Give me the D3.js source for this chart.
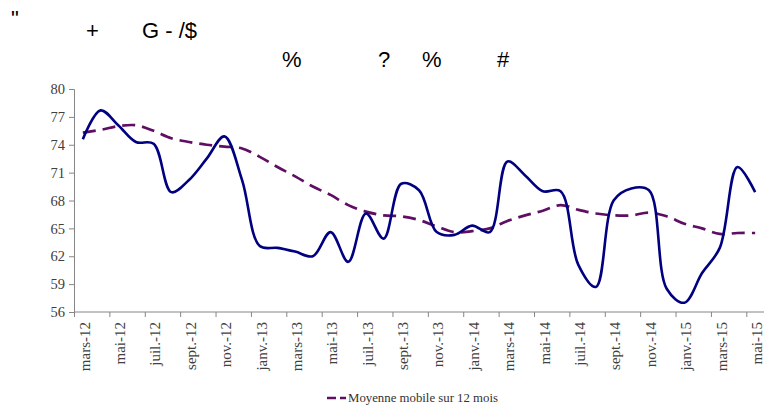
<!DOCTYPE html>
<html lang="fr">
<head>
<meta charset="utf-8">
<title></title>
<style>
  body { margin: 0; background: #fff; }
  .axis path, .axis line { stroke: #868686; }
  .axis text { font-family: "Liberation Serif", serif; fill: #404040; }
  .head { font-family: "Liberation Sans", Arial, sans-serif; font-size: 22px; fill: #000; }
</style>
</head>
<body>
<svg class="chart"></svg>
<script src="https://cdnjs.cloudflare.com/ajax/libs/d3/7.8.5/d3.min.js"></script>
<script>
var months = ["mars-12","avr.-12","mai-12","juin-12","juil.-12","août-12","sept.-12","oct.-12","nov.-12","déc.-12",
  "janv.-13","févr.-13","mars-13","avr.-13","mai-13","juin-13","juil.-13","août-13","sept.-13","oct.-13","nov.-13","déc.-13",
  "janv.-14","févr.-14","mars-14","avr.-14","mai-14","juin-14","juil.-14","août-14","sept.-14","oct.-14","nov.-14","déc.-14",
  "janv.-15","févr.-15","mars-15","avr.-15","mai-15"];

var monthly = [74.6, 77.7, 76.1, 74.3, 74.1, 68.9, 70.2, 72.5, 74.9, 70.2,
  63.1, 62.9, 62.5, 62.0, 64.6, 61.4, 66.6, 63.9, 69.8, 69.1, 64.6, 64.3,
  65.3, 64.6, 72.2, 70.7, 69.0, 69.0, 61.1, 58.7, 68.0, 69.3, 69.1, 58.5,
  57.0, 60.2, 62.9, 71.6, 68.9];

var movingAvg = [75.3, 75.6, 76.0, 76.1, 75.5, 74.7, 74.3, 74.0, 73.8, 73.6,
  72.7, 71.6, 70.6, 69.5, 68.6, 67.5, 66.8, 66.4, 66.3, 65.9, 65.2, 64.6,
  64.7, 65.0, 65.8, 66.4, 66.9, 67.5, 67.0, 66.6, 66.4, 66.4, 66.7, 66.3,
  65.5, 65.0, 64.4, 64.5, 64.5];

var yTicks = [56, 59, 62, 65, 68, 71, 74, 77, 80];

// garbled title glyphs as they appear in the source
var headLine1 = [["\"", 11, 26], ["+", 86, 38], ["G - /$", 142, 38]];
var headLine2 = [["%", 282, 67], ["?", 378, 67], ["%", 422, 67], ["#", 497, 67]];

var W = 775, H = 407;
var plotLeft = 74, plotRight = 764, plotTop = 89, plotBottom = 312;

var svg = d3.select(".chart").attr("width", W).attr("height", H);

svg.selectAll(".head").data(headLine1.concat(headLine2)).enter().append("text")
  .attr("class", "head")
  .attr("x", function(d) { return d[1]; })
  .attr("y", function(d) { return d[2]; })
  .text(function(d) { return d[0]; });

var x = d3.scaleBand().domain(months).range([plotLeft, plotRight]);
var xl = d3.scaleLinear().domain([0, months.length]).range([plotLeft, plotRight]);
var y = d3.scaleLinear().domain([56, 80]).range([plotBottom, plotTop]);

var yAxis = d3.axisLeft(y).tickValues(yTicks).tickSize(5).tickPadding(4);
svg.append("g").attr("class", "y axis")
  .attr("transform", "translate(" + plotLeft + ",0)")
  .call(yAxis)
  .selectAll("text").style("font-size", "14.5px");

// tick marks every two months, at band boundaries
svg.append("g").attr("class", "x axis")
  .attr("transform", "translate(0," + plotBottom + ")")
  .call(d3.axisBottom(xl).tickValues(d3.range(0, months.length, 2)).tickSize(5).tickFormat(""))
  .select(".domain").attr("d", "M" + plotLeft + ",0H" + plotRight);

var xLabels = svg.append("g").attr("class", "x axis")
  .attr("transform", "translate(0," + plotBottom + ")")
  .call(d3.axisBottom(x).tickValues(months.filter(function(d, i) { return i % 2 === 0; })).tickSize(0));
xLabels.select(".domain").remove();
xLabels.selectAll("text")
  .style("font-size", "15px")
  .style("text-anchor", "end")
  .attr("transform", "rotate(-90)")
  .attr("x", -10)
  .attr("y", 1.5)
  .attr("dy", "0.35em");

function cx(i) { return x(months[i]) + x.bandwidth() / 2; }

var line = d3.line()
  .x(function(d, i) { return cx(i); })
  .y(function(d) { return y(d); })
  .curve(d3.curveCatmullRom.alpha(0.5));

svg.append("path").datum(movingAvg)
  .attr("fill", "none")
  .attr("stroke", "#5f0f63")
  .attr("stroke-width", 2.7)
  .attr("stroke-dasharray", "13,7")
  .attr("d", line);

svg.append("path").datum(monthly)
  .attr("fill", "none")
  .attr("stroke", "#000080")
  .attr("stroke-width", 2.6)
  .attr("d", line);

// legend
svg.append("line")
  .attr("x1", 327).attr("x2", 346).attr("y1", 398).attr("y2", 398)
  .attr("stroke", "#5f0f63").attr("stroke-width", 2.7).attr("stroke-dasharray", "9,4");
svg.append("text")
  .attr("x", 348).attr("y", 402)
  .style("font-family", "'Liberation Serif', serif")
  .style("font-size", "12.8px")
  .style("fill", "#333")
  .text("Moyenne mobile sur 12 mois");
</script>
</body>
</html>
